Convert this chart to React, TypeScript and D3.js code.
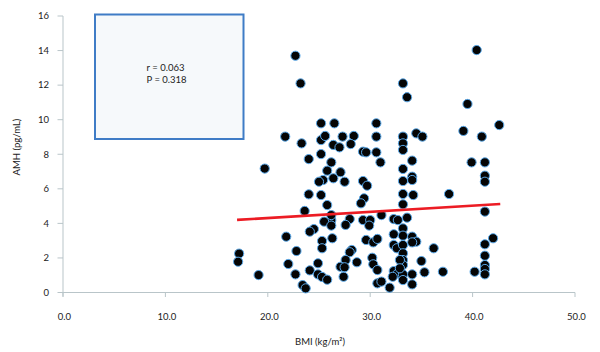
import React from "react";
import * as d3 from "d3";

const bmi: number[] = [
  22.7, 23.2, 25.2, 26.5, 21.7, 23.3, 25.2, 25.6, 26.4, 24.0, 25.2, 26.2, 19.7, 25.8, 25.4, 25.0, 26.4, 24.0, 25.2, 25.8,
  23.6, 26.2, 25.5, 26.2, 24.5, 24.1, 21.8, 25.3, 26.3, 25.3, 22.8, 17.2, 17.1, 22.0, 24.9, 24.1, 22.7, 19.1, 24.9, 25.3,
  25.8, 23.4, 23.7,
  33.2, 33.6, 30.6, 27.3, 28.4, 27.0, 28.1, 30.6, 33.2, 33.2, 33.2, 34.5, 35.1, 29.3, 29.6, 30.6, 31.0, 34.1, 33.2, 27.1,
  27.5, 34.1, 34.1, 33.2, 29.3, 29.7, 33.2, 34.2, 29.4, 29.1, 33.2, 31.1, 26.2, 28.0, 27.6, 29.3, 30.0, 29.9, 32.3, 32.7,
  33.6, 33.2, 32.3, 33.2, 29.6, 30.3, 30.7, 32.3, 32.6, 33.2, 34.1, 34.5, 34.1, 33.2, 33.2, 33.2, 28.2, 28.0, 27.6, 27.1,
  27.5, 28.7, 27.4, 30.2, 30.3, 30.7, 32.3, 32.7, 33.2, 34.1, 35.0, 35.3, 32.2, 33.2, 34.1, 30.7, 31.1, 31.9, 32.9, 32.9,
  40.4, 39.5, 42.6, 39.1, 40.9, 39.9, 41.2, 41.2, 41.2, 37.7, 41.2, 42.0, 41.2, 36.2, 41.2, 41.2, 41.2, 41.2, 40.2, 37.1,
];

const amh: number[] = [
  13.7, 12.1, 9.79, 9.79, 9.02, 8.63, 8.82, 9.06, 8.54, 7.72, 8.01, 7.53, 7.17, 7.05, 6.51, 6.41, 6.61, 5.68, 5.64, 5.06,
  4.72, 4.19, 4.1, 3.87, 3.67, 3.52, 3.23, 2.98, 3.14, 2.56, 2.4, 2.25, 1.78, 1.65, 1.69, 1.28, 1.05, 1.01, 1.05, 0.9,
  0.74, 0.43, 0.24,
  12.1, 11.3, 9.79, 9.02, 9.06, 8.4, 8.59, 9.02, 9.02, 8.63, 8.25, 9.21, 9.02, 8.15, 8.11, 8.11, 7.53, 7.63, 7.15, 6.96,
  6.41, 6.7, 6.51, 6.45, 6.45, 6.18, 5.7, 5.64, 5.45, 5.16, 5.1, 4.48, 4.48, 4.25, 3.91, 4.19, 4.19, 3.87, 4.25, 4.19,
  4.33, 3.71, 3.37, 3.29, 3.04, 2.9, 3.1, 2.75, 2.56, 2.75, 3.23, 2.94, 2.9, 2.27, 1.88, 1.59, 2.46, 2.33, 1.88, 1.49,
  1.46, 1.75, 0.91, 2.01, 1.63, 1.3, 1.24, 1.11, 1.05, 1.05, 1.82, 1.17, 0.91, 0.72, 0.47, 0.53, 0.63, 0.28, 1.88, 1.4,
  14.03, 10.91, 9.69, 9.35, 9.02, 7.53, 7.53, 6.76, 6.41, 5.7, 4.68, 3.14, 2.79, 2.56, 2.13, 1.59, 1.36, 1.05, 1.2, 1.2,
];

const trendX: number[] = [17.0, 42.7];
const trendY: number[] = [4.2, 5.12];

const xTicks: number[] = [0, 10, 20, 30, 40, 50];
const yTicks: number[] = [0, 2, 4, 6, 8, 10, 12, 14, 16];

const statLines: string[] = ["r = 0.063", "P = 0.318"];
const xTitle = "BMI (kg/m²)";
const yTitle = "AMH (pg/mL)";

export default function App() {
  const x = d3.scaleLinear().domain([0, 50]).range([63, 575]);
  const y = d3.scaleLinear().domain([0, 16]).range([292.5, 16]);
  const axisColor = "#b9c5c9";
  const font = "Lato, 'Open Sans', sans-serif";
  const trend = d3
    .line<number>()
    .x((_, i) => x(trendX[i]))
    .y((d) => y(d));

  return (
    <svg
      width={600}
      height={352}
      style={{ position: "absolute", left: 0, top: 0, background: "#fff" }}
      fontFamily={font}
    >
      <rect x={95} y={14.5} width={148.5} height={124.5} fill="#f6f9fb" stroke="#3f7cc6" strokeWidth={2} />
      {statLines.map((t, i) => (
        <text key={t} x={146.5} y={70.5 + i * 12.6} fontSize={9.5} fill="#222">
          {t}
        </text>
      ))}

      {/* y axis */}
      <line x1={x(0)} x2={x(0)} y1={y(16)} y2={y(0) + 4} stroke={axisColor} strokeWidth={1} />
      {yTicks.map((t) => (
        <g key={"y" + t}>
          <line x1={x(0) - 5.5} x2={x(0)} y1={y(t)} y2={y(t)} stroke={axisColor} strokeWidth={1} />
          <text x={49} y={y(t) + 3.3} fontSize={9.5} textAnchor="end" fill="#222">
            {t}
          </text>
        </g>
      ))}
      {/* x axis */}
      <line x1={x(0)} x2={x(50)} y1={y(0)} y2={y(0)} stroke={axisColor} strokeWidth={1} />
      {xTicks.map((t) => (
        <g key={"x" + t}>
          <line x1={x(t)} x2={x(t)} y1={y(0)} y2={y(0) + 4.5} stroke={axisColor} strokeWidth={1} />
          <text x={x(t) + 1.5} y={320} fontSize={9.5} textAnchor="middle" fill="#222">
            {d3.format(".1f")(t)}
          </text>
        </g>
      ))}

      <text x={320} y={345} fontSize={9.5} textAnchor="middle" fill="#222">
        {xTitle}
      </text>
      <text
        transform={`translate(19.5, ${147}) rotate(-90)`}
        fontSize={9.5}
        textAnchor="middle"
        fill="#222"
      >
        {yTitle}
      </text>

      {bmi.map((b, i) => (
        <circle key={i} cx={x(b)} cy={y(amh[i])} r={4.6} fill="#050505" stroke="#5aa9ea" strokeWidth={1} />
      ))}

      <path d={trend(trendY) || ""} fill="none" stroke="#ec1c24" strokeWidth={2.6} />
    </svg>
  );
}
